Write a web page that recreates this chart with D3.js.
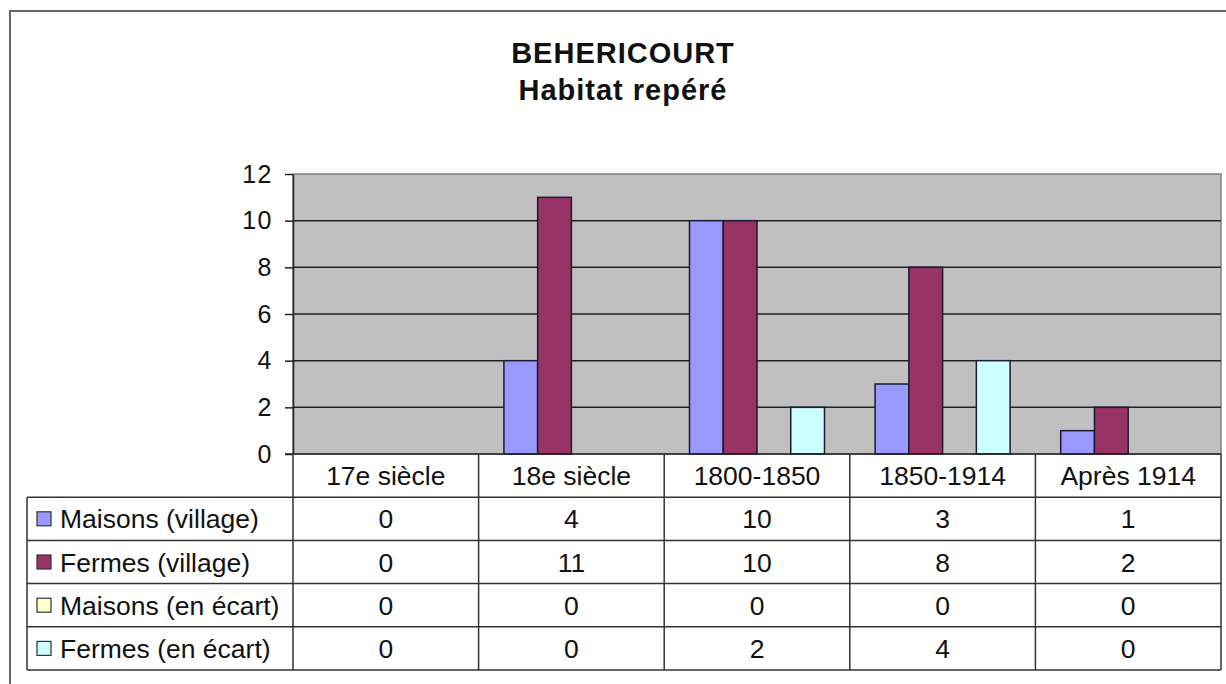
<!DOCTYPE html>
<html>
<head>
<meta charset="utf-8">
<script src="https://cdn.jsdelivr.net/npm/d3@7"></script>
<style>
  html, body { margin: 0; padding: 0; background: #fff; }
  svg { display: block; font-family: "Liberation Sans", Arial, sans-serif; }
</style>
</head>
<body>
<svg id="chart" width="1226" height="684"></svg>
<script>
const titleLines = ["BEHERICOURT", "Habitat repéré"];
const categories = ["17e siècle", "18e siècle", "1800-1850", "1850-1914", "Après 1914"];
const seriesNames = ["Maisons (village)", "Fermes (village)", "Maisons (en écart)", "Fermes (en écart)"];
const seriesColors = ["#9999FF", "#993366", "#FFFFCC", "#CCFFFF"];
const maisonsVillage = [0, 4, 10, 3, 1];
const fermesVillage = [0, 11, 10, 8, 2];
const maisonsEcart = [0, 0, 0, 0, 0];
const fermesEcart = [0, 0, 2, 4, 0];
const yTicks = [0, 2, 4, 6, 8, 10, 12];

const seriesValues = [maisonsVillage, fermesVillage, maisonsEcart, fermesEcart];

const svg = d3.select("#chart");

// layout
const plotL = 293, plotR = 1221, plotT = 174, plotB = 454;
const rowH = 43.2;
const legendL = 27;

// outer border
svg.append("rect")
  .attr("x", 10).attr("y", 11).attr("width", 1240).attr("height", 700)
  .attr("fill", "#fff").attr("stroke", "#666").attr("stroke-width", 2);

// title
const title = svg.append("text")
  .attr("text-anchor", "middle")
  .attr("font-weight", "bold")
  .attr("font-size", 29)
  .attr("letter-spacing", "1px")
  .attr("fill", "#111");
title.selectAll("tspan").data(titleLines).join("tspan")
  .attr("x", 623)
  .attr("y", (d, i) => i === 0 ? 63 : 100)
  .text(d => d);

// scales
const x = d3.scaleBand().domain(categories).range([plotL, plotR]).padding(0);
const xs = d3.scaleBand().domain(seriesNames).range([0, x.bandwidth()])
  .paddingInner(0).paddingOuter(0.75);
const y = d3.scaleLinear().domain([0, 12]).range([plotB, plotT]);

// plot area
svg.append("rect")
  .attr("x", plotL).attr("y", plotT)
  .attr("width", plotR - plotL).attr("height", plotB - plotT)
  .attr("fill", "#C0C0C0").attr("stroke", "#808080").attr("stroke-width", 1.5);

// gridlines
svg.append("g").selectAll("line")
  .data(yTicks.filter(t => t > 0 && t < 12)).join("line")
  .attr("x1", plotL).attr("x2", plotR)
  .attr("y1", d => y(d)).attr("y2", d => y(d))
  .attr("stroke", "#222").attr("stroke-width", 1.5);

// y axis
const yAxis = svg.append("g")
  .attr("transform", `translate(${plotL},0)`)
  .call(d3.axisLeft(y).tickValues(yTicks).tickSize(8).tickPadding(12).tickSizeOuter(0));
yAxis.select(".domain").attr("stroke", "#222").attr("stroke-width", 1.5);
yAxis.selectAll(".tick line").attr("stroke", "#222").attr("stroke-width", 1.5);
yAxis.selectAll(".tick text")
  .attr("font-size", 25).attr("letter-spacing", "1.5px")
  .attr("font-family", "'Liberation Sans', Arial, sans-serif")
  .attr("fill", "#111");

// bars
const groups = svg.append("g").selectAll("g")
  .data(categories).join("g")
  .attr("transform", d => `translate(${x(d)},0)`);
groups.selectAll("rect")
  .data((c, ci) => seriesNames.map((s, si) => ({ s, si, v: seriesValues[si][ci] })).filter(d => d.v > 0))
  .join("rect")
  .attr("x", d => xs(d.s))
  .attr("width", xs.bandwidth())
  .attr("y", d => y(d.v))
  .attr("height", d => y(0) - y(d.v))
  .attr("fill", d => seriesColors[d.si])
  .attr("stroke", "#1a1a33").attr("stroke-width", 1.5);

// zero baseline
svg.append("line")
  .attr("x1", plotL - 8).attr("x2", plotR)
  .attr("y1", plotB).attr("y2", plotB)
  .attr("stroke", "#222").attr("stroke-width", 1.5);

// data table
const table = svg.append("g");
const lineColor = "#333";
const tableB = plotB + rowH * 5;
const fs = 26.5;

// header row (categories)
table.selectAll("text.cat").data(categories).join("text")
  .attr("class", "cat")
  .attr("x", d => x(d) + x.bandwidth() / 2)
  .attr("y", plotB + rowH / 2)
  .attr("dy", "0.36em")
  .attr("text-anchor", "middle")
  .attr("font-size", fs)
  .attr("fill", "#111")
  .text(d => d);

// horizontal lines
const hLines = d3.range(1, 6).map(i => plotB + rowH * i);
table.selectAll("line.h").data(hLines).join("line")
  .attr("x1", legendL).attr("x2", plotR)
  .attr("y1", d => d).attr("y2", d => d)
  .attr("stroke", lineColor).attr("stroke-width", 1.5);

// vertical lines
const vLines = categories.map(c => x(c)).concat([plotR]);
table.selectAll("line.v").data(vLines).join("line")
  .attr("x1", d => d).attr("x2", d => d)
  .attr("y1", plotB).attr("y2", tableB)
  .attr("stroke", lineColor).attr("stroke-width", 1.5);
table.append("line")
  .attr("x1", legendL).attr("x2", legendL)
  .attr("y1", plotB + rowH).attr("y2", tableB)
  .attr("stroke", lineColor).attr("stroke-width", 1.5);

// series rows
seriesNames.forEach((name, si) => {
  const rowY = plotB + rowH * (si + 1);
  const cy = rowY + rowH / 2;
  table.append("rect")
    .attr("x", 37).attr("y", cy - 7)
    .attr("width", 14).attr("height", 14)
    .attr("fill", seriesColors[si])
    .attr("stroke", "#333").attr("stroke-width", 1.2);
  table.append("text")
    .attr("x", 60).attr("y", cy).attr("dy", "0.36em")
    .attr("font-size", fs).attr("fill", "#111")
    .text(name);
  table.selectAll(null).data(categories).join("text")
    .attr("x", d => x(d) + x.bandwidth() / 2)
    .attr("y", cy).attr("dy", "0.36em")
    .attr("text-anchor", "middle")
    .attr("font-size", fs).attr("fill", "#111")
    .text((d, ci) => seriesValues[si][ci]);
});
</script>
</body>
</html>
